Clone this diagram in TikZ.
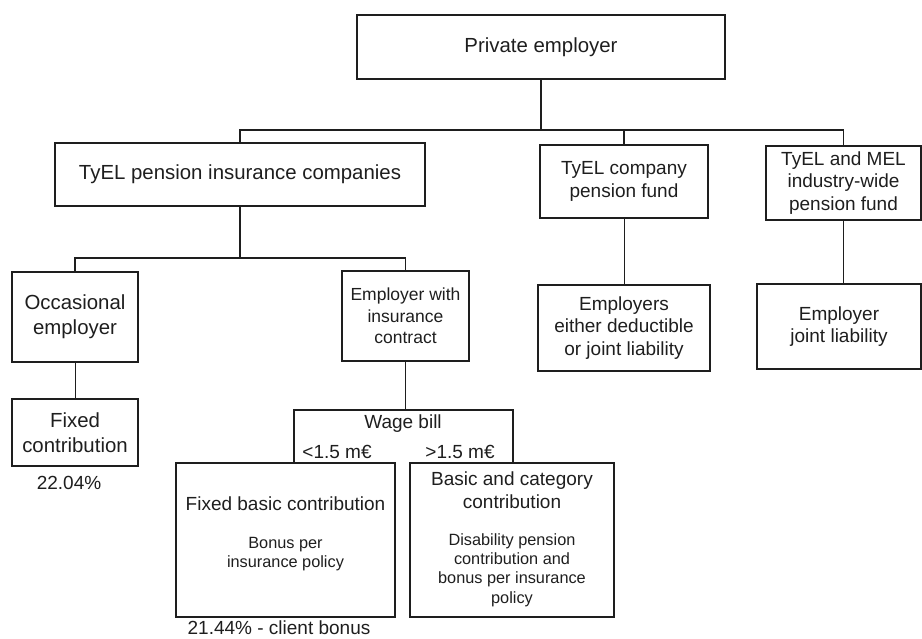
\documentclass[tikz,border=0pt]{standalone}
\usepackage{fontspec}
\setmainfont{Liberation Sans}
\definecolor{ink}{HTML}{1E1E1E}
\begin{document}
\begin{tikzpicture}[x=1pt,y=-1pt,
  box/.style={draw=ink, line width=1.2pt, inner sep=0pt, outer sep=0pt, align=center, text=ink},
  big/.style={font=\fontsize{20.4}{25}\selectfont},
  mid/.style={font=\fontsize{19}{22.5}\selectfont},
  midsm/.style={font=\fontsize{17.5}{21.5}\selectfont},
  small/.style={font=\fontsize{16.3}{19.3}\selectfont},
  txt/.style={inner sep=0pt, text=ink, align=center},
  trunk/.style={draw=ink, line width=1.5pt},
  branch/.style={draw=ink, line width=1pt}]
\useasboundingbox (0,0) rectangle (922,639);

% first level
\node[box,big,minimum width=368,minimum height=64] (pe) at (541,47) {Private employer};
\node[box,big,minimum width=370,minimum height=63] (pic) at (240,174.5) {TyEL pension insurance companies};
\node[box,mid,minimum width=168,minimum height=73] (cpf) at (624,181.5) {TyEL company\\pension fund};
\node[box,mid,minimum width=155,minimum height=74] (mel) at (843.5,183) {TyEL and MEL\\industry-wide\\pension fund};

% second level
\node[box,big,minimum width=126,minimum height=90] (occ) at (75,317) {Occasional\\employer};
\node[box,midsm,minimum width=127,minimum height=90] (ewi) at (405.5,316) {Employer with\\insurance\\contract};
\node[box,mid,minimum width=172,minimum height=86] (emp) at (624,328) {Employers\\either deductible\\or joint liability};
\node[box,mid,minimum width=164,minimum height=85] (ejl) at (839,326.5) {Employer\\joint liability};

% contributions
\node[box,big,minimum width=126,minimum height=67] (fc) at (75,432.5) {Fixed\\contribution};
\node[txt,mid] (fcrate) at (69,483) {22.04\%};

\node[inner sep=0pt,outer sep=0pt,minimum width=219,minimum height=53] (wage) at (403.5,436.5) {};
\node[txt,mid] (wagetitle) at (403,424) {Wage bill};
\node[txt,mid] (lt) at (337,452) {<1.5 m€};
\node[txt,mid] (gt) at (460,452) {>1.5 m€};

\node[box,minimum width=219,minimum height=154] (fbc) at (285.5,540) {};
\node[txt,mid] (fbctitle) at (285.5,504) {Fixed basic contribution};
\node[txt,small] (fbcnote) at (285.5,554) {Bonus per\\insurance policy};
\node[txt,mid] (fbcrate) at (279,628) {21.44\% - client bonus};

\node[box,minimum width=204,minimum height=154] (bcc) at (512,540) {};
\node[txt,mid] (bcctitle) at (512,490) {Basic and category\\contribution};
\node[txt,small] (bccnote) at (512,570) {Disability pension\\contribution and\\bonus per insurance\\policy};

% connectors
\coordinate (j1) at (541,130);
\coordinate (j2) at (240,258);
\draw[trunk] (pe.south) -- (j1);
\draw[trunk] (pic.north) |- (j1) -| (mel.north);
\draw[trunk] (cpf.north) -- (cpf.north |- j1);
\draw[trunk] (pic.south) -- (j2);
\draw[trunk] (occ.north) |- (j2) -| (ewi.north);
\draw[branch] (cpf.south) -- (emp.north);
\draw[branch] (mel.south) -- (mel.south |- ejl.north);
\draw[branch] (occ.south) -- (fc.north);
\draw[trunk] (ewi.south) -- (ewi.south |- wage.north);
\draw[draw=ink, line width=1.2pt] (wage.south west) -- (wage.north west) -- (wage.north east) -- (wage.south east);
\end{tikzpicture}
\end{document}
